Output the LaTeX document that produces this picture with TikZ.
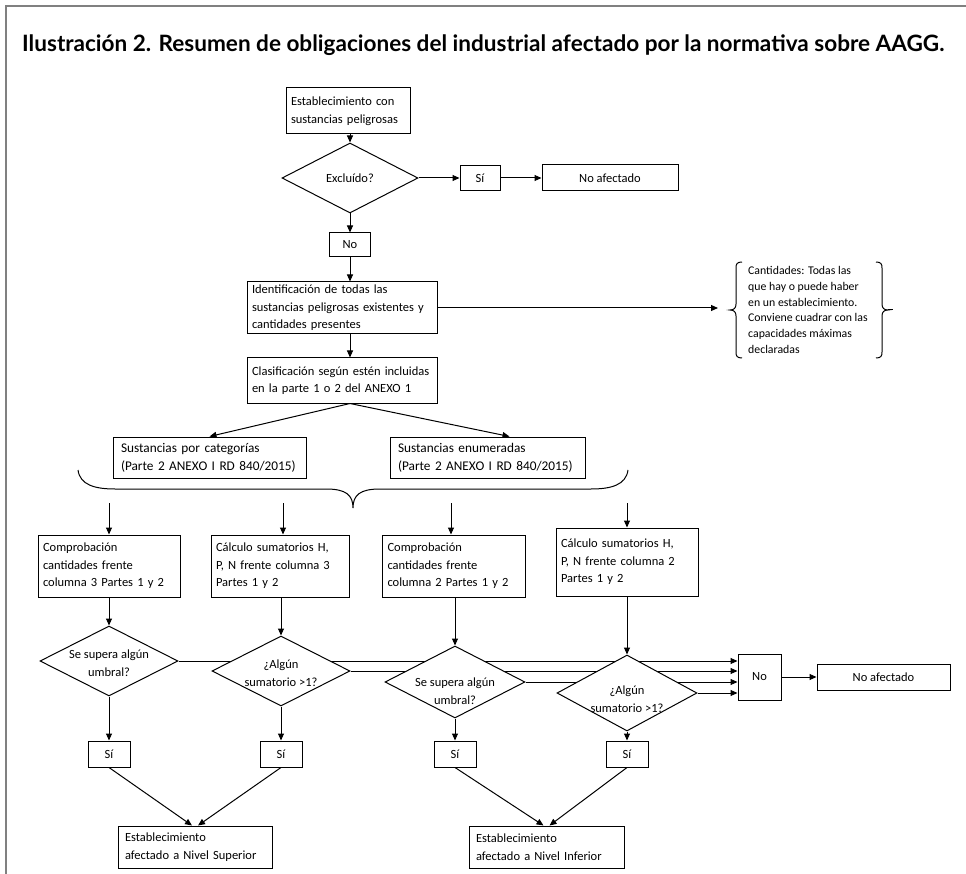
\documentclass[tikz,border=0pt]{standalone}
\usepackage{fontspec}
\setmainfont{Carlito}
\newfontfamily\titlefont{Lato}
\usetikzlibrary{arrows.meta,shapes.geometric}
\pgfdeclarelayer{bg}
\pgfsetlayers{bg,main}
\definecolor{framecol}{HTML}{808080}
\hyphenpenalty=10000
\exhyphenpenalty=10000
\newcommand{\bodyfs}{\hyphenpenalty=10000\fontsize{12.5}{17.5}\selectfont}
\newcommand{\notefs}{\hyphenpenalty=10000\fontsize{11.8}{15.8}\selectfont}
\newcommand{\dtext}[2][-5pt]{\makebox[0pt]{\smash{\raisebox{#1}{\begin{tabular}{@{}c@{}}#2\end{tabular}}}}}
\tikzset{
  box/.style={draw, line width=1pt, fill=white, inner sep=0pt, font=\bodyfs, align=left},
  cbox/.style={draw, line width=1pt, fill=white, inner sep=0pt, font=\bodyfs, align=center},
  dia/.style={diamond, draw, line width=1pt, fill=white, inner sep=0pt, font=\bodyfs},
  arr/.style={line width=1pt, -{Triangle[length=7pt,width=6pt]}},
  ln/.style={line width=1pt}
}
\begin{document}
\begin{tikzpicture}[x=1pt,y=-1pt]
\useasboundingbox (0,0) rectangle (966,874);
\begin{pgfonlayer}{bg}
\fill[white] (0,0) rectangle (966,874);
\end{pgfonlayer}
\draw[framecol, line width=2pt] (966,6) -- (6,6) -- (6,874);

\node[anchor=base west, inner sep=0pt, font=\titlefont\bfseries\fontsize{20}{24}\selectfont] (title) at (22,52)
  {\resizebox{922pt}{!}{Ilustración 2. Resumen de obligaciones del industrial afectado por la normativa sobre AAGG.}};

% top part
\node[box, minimum width=124pt, minimum height=46pt, text width=114pt] (est) at (348,111) {Establecimiento con\\sustancias peligrosas};
\node[dia, minimum width=136pt, minimum height=70pt] (excl) at (350,178) {\dtext[-4pt]{Excluído?}};
\node[cbox, minimum width=40pt, minimum height=25pt] (si0) at (480,178) {Sí};
\node[cbox, minimum width=136pt, minimum height=26pt] (noaf0) at (610,178) {No afectado};
\node[cbox, minimum width=41pt, minimum height=24pt] (no0) at (350,245) {No};
\node[box, minimum width=190pt, minimum height=52pt, text width=180pt] (ident) at (342,308) {Identificación de todas las\\sustancias peligrosas existentes y\\cantidades presentes};
\node[box, minimum width=190pt, minimum height=45pt, text width=180pt] (clas) at (342,380.5) {Clasificación según estén incluidas\\en la parte 1 o 2 del ANEXO 1};

% note
\node[font=\notefs, align=left, anchor=west, inner sep=0pt] (note) at (748,310)
  {Cantidades: Todas las\\que hay o puede haber\\en un establecimiento.\\Conviene cuadrar con las\\capacidades máximas\\declaradas};
\coordinate (noteL) at (718,309);
\draw[ln] (742,262) .. controls (737,262) and (736,264) .. (736,268) -- (736,304)
  .. controls (736,308) and (734,310) .. (730,310) .. controls (734,310) and (736,312) .. (736,316)
  -- (736,352) .. controls (736,356) and (737,358) .. (742,358);
\draw[ln] (876,262) .. controls (881,262) and (882,264) .. (882,268) -- (882,304)
  .. controls (882,308) and (884,310) .. (888,310) .. controls (884,310) and (882,312) .. (882,316)
  -- (882,352) .. controls (882,356) and (881,358) .. (876,358);
\draw[ln] (888,310) -- (893,310);

% sustancias
\node[box, minimum width=193pt, minimum height=41pt, text width=177pt, font=\fontsize{13.3}{18}\selectfont] (sc) at (209.5,457.5) {Sustancias por categorías\\(Parte 2 ANEXO I RD 840/2015)};
\node[box, minimum width=195pt, minimum height=41pt, text width=179pt, font=\fontsize{13.3}{18}\selectfont] (se) at (487.5,457.5) {Sustancias enumeradas\\(Parte 2 ANEXO I RD 840/2015)};

% big brace
\draw[ln] (78,470) .. controls (80,485) and (95,489) .. (115,489) -- (326,489)
  .. controls (346,489) and (353,495) .. (353,508) .. controls (353,495) and (360,489) .. (380,489)
  -- (591,489) .. controls (611,489) and (626,485) .. (628,470);

% row boxes
\node[box, minimum width=142pt, minimum height=62pt, text width=132pt] (b1) at (109,566) {Comprobación\\cantidades frente\\columna 3 Partes 1 y 2};
\node[box, minimum width=138pt, minimum height=62pt, text width=128pt] (b2) at (280,566) {Cálculo sumatorios H,\\P, N frente columna 3\\Partes 1 y 2};
\node[box, minimum width=143pt, minimum height=62pt, text width=133pt] (b3) at (454,566) {Comprobación\\cantidades frente\\columna 2 Partes 1 y 2};
\node[box, minimum width=142pt, minimum height=68pt, text width=132pt] (b4) at (627,562) {Cálculo sumatorios H,\\P, N frente columna 2\\Partes 1 y 2};

\coordinate (t1) at (109,503);
\coordinate (t2) at (283,503);
\coordinate (t3) at (451,503);
\coordinate (t4) at (627,503);

% diamonds
\node[dia, minimum width=138pt, minimum height=70pt] (d1) at (109,661) {\dtext[-6pt]{Se supera algún\\umbral?}};
\node[dia, minimum width=138pt, minimum height=70pt] (d2) at (281,671) {\dtext[-6pt]{¿Algún\\sumatorio >1?}};
\node[dia, minimum width=140pt, minimum height=72pt] (d3) at (455,682) {\dtext[-13pt]{Se supera algún\\umbral?}};
\node[dia, minimum width=140pt, minimum height=76pt] (d4) at (627,693) {\dtext[-10pt]{¿Algún\\sumatorio >1?}};

\node[cbox, minimum width=43pt, minimum height=46pt] (no) at (759.5,677) {No};
\node[cbox, minimum width=133pt, minimum height=26pt] (noaf) at (883.5,677) {No afectado};

% si boxes
\node[cbox, minimum width=42pt, minimum height=26pt] (s1) at (109,754) {Sí};
\node[cbox, minimum width=42pt, minimum height=26pt] (s2) at (281,754) {Sí};
\node[cbox, minimum width=42pt, minimum height=26pt] (s3) at (455,754) {Sí};
\node[cbox, minimum width=42pt, minimum height=26pt] (s4) at (627,754) {Sí};

\node[box, minimum width=154pt, minimum height=42pt, text width=140pt] (es) at (195,847) {Establecimiento\\afectado a Nivel Superior};
\node[box, minimum width=155pt, minimum height=42pt, text width=141pt] (ei) at (546.5,847) {Establecimiento\\afectado a Nivel Inferior};

\begin{pgfonlayer}{bg}
\draw[arr] (est.south -| excl.north) -- (excl.north);
\draw[arr] (excl.east) -- (si0.west);
\draw[arr] (si0.east) -- (noaf0.west);
\draw[arr] (excl.south) -- (no0.north);
\draw[arr] (no0.south) -- (no0.south |- ident.north);
\draw[arr] (ident.east) -- (ident.east -| noteL);
\draw[arr] (no0.south |- ident.south) -- (no0.south |- clas.north);
\draw[arr] (no0.south |- clas.south) -- (sc.north);
\draw[arr] (no0.south |- clas.south) -- ([xshift=22pt]se.north);
\draw[arr] (t1) -- (t1 |- b1.north);
\draw[arr] (t2) -- (t2 |- b2.north);
\draw[arr] (t3) -- (t3 |- b3.north);
\draw[arr] (t4) -- (t4 |- b4.north);
\draw[arr] (b1.south) -- (d1.north);
\draw[arr] (d2.north |- b2.south) -- (d2.north);
\draw[arr] (d3.north |- b3.south) -- (d3.north);
\draw[arr] (b4.south) -- (d4.north);
\draw[arr] (d1.east) -- (d1.east -| no.west);
\draw[arr] (d2.east) -- (d2.east -| no.west);
\draw[arr] (d3.east) -- (d3.east -| no.west);
\draw[arr] (d4.east) -- (d4.east -| no.west);
\draw[arr] (no.east) -- (noaf.west);
\draw[arr] (d1.south) -- (s1.north);
\draw[arr] (d2.south) -- (s2.north);
\draw[arr] (d3.south) -- (s3.north);
\draw[arr] (d4.south) -- (s4.north);
\draw[arr] (s1.south) -- ([xshift=-3pt]es.north);
\draw[arr] (s2.south) -- ([xshift=3pt]es.north);
\draw[arr] (s3.south) -- ([xshift=-3pt]ei.north);
\draw[arr] (s4.south) -- ([xshift=3pt]ei.north);
\end{pgfonlayer}
\end{tikzpicture}
\end{document}
